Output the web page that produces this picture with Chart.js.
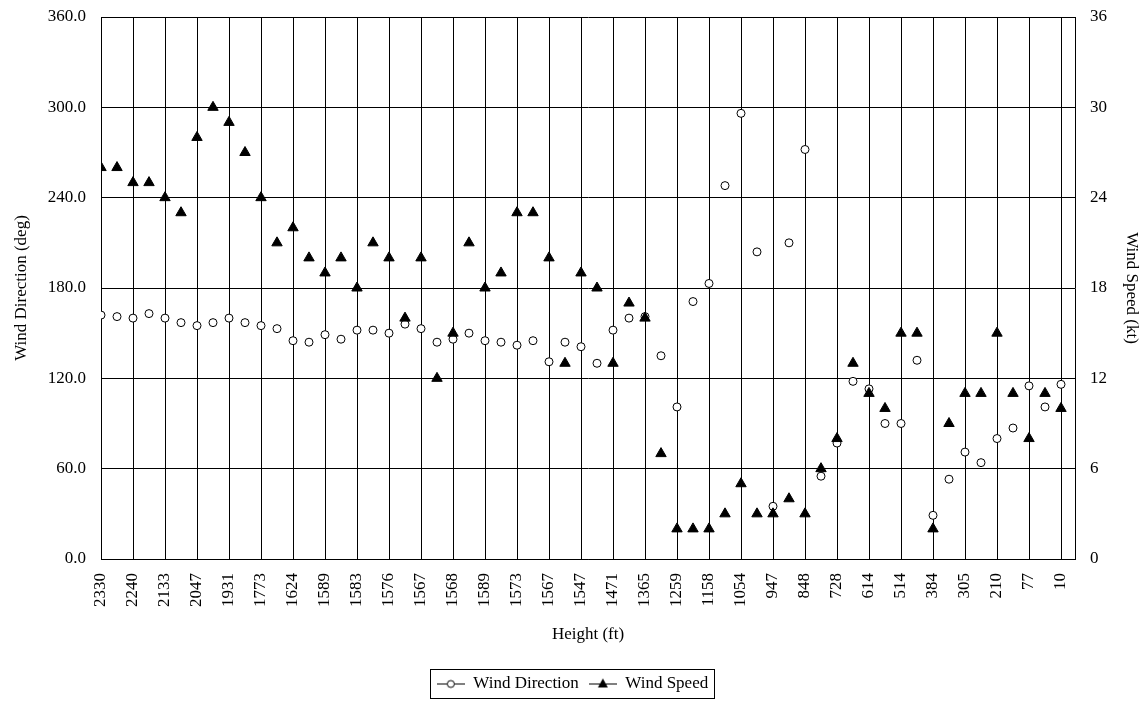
<!DOCTYPE html>
<html>
<head>
<meta charset="utf-8">
<title>Wind Direction / Wind Speed</title>
<script src="https://cdn.jsdelivr.net/npm/chart.js@4.4.1/dist/chart.umd.min.js"></script>
<style>
    html, body { margin: 0; padding: 0; background: #fff; }
    .chart-box { position: relative; width: 1145px; height: 702px; }
</style>
</head>
<body>
<div class="chart-box">
    <canvas id="windChart"></canvas>
</div>
<script>
// Height labels shown under every second point (ft)
const heights = [2330, 2240, 2133, 2047, 1931, 1773, 1624, 1589, 1583, 1576, 1567,
    1568, 1589, 1573, 1567, 1547, 1471, 1365, 1259, 1158, 1054, 947,
    848, 728, 614, 514, 384, 305, 210, 77, 10];

// Wind direction (deg), one value per point
const windDirection = [162, 161, 160, 163, 160, 157, 155, 157, 160, 157,
    155, 153, 145, 144, 149, 146, 152, 152, 150, 156,
    153, 144, 146, 150, 145, 144, 142, 145, 131, 144,
    141, 130, 152, 160, 161, 135, 101, 171, 183, 248,
    296, 204, 35, 210, 272, 55, 77, 118, 113, 90,
    90, 132, 29, 53, 71, 64, 80, 87, 115, 101,
    116];

// Wind speed (kt), one value per point
const windSpeed = [26, 26, 25, 25, 24, 23, 28, 30, 29, 27,
    24, 21, 22, 20, 19, 20, 18, 21, 20, 16,
    20, 12, 15, 21, 18, 19, 23, 23, 20, 13,
    19, 18, 13, 17, 16, 7, 2, 2, 2, 3,
    5, 3, 3, 4, 3, 6, 8, 13, 11, 10,
    15, 15, 2, 9, 11, 11, 15, 11, 8, 11,
    10];

const dirTicks = [0, 60, 120, 180, 240, 300, 360];
const speedTicks = [0, 6, 12, 18, 24, 30, 36];

document.addEventListener('DOMContentLoaded', function() {

    Chart.defaults.font.family = '"Liberation Serif", "Times New Roman", serif';
    Chart.defaults.font.size = 17;
    Chart.defaults.color = '#000';

    // small line + marker symbols for the legend
    function legendSymbol(kind) {
        const c = document.createElement('canvas');
        c.width = 28;
        c.height = 12;
        const g = c.getContext('2d');
        g.strokeStyle = '#000';
        g.lineWidth = 1;
        g.beginPath();
        g.moveTo(0, 6.5);
        g.lineTo(28, 6.5);
        g.stroke();
        g.beginPath();
        if (kind === 'circle') {
            g.arc(14, 6.5, 3.5, 0, Math.PI * 2);
            g.fillStyle = '#fff';
            g.fill();
            g.stroke();
        } else {
            g.moveTo(14, 1);
            g.lineTo(19, 10);
            g.lineTo(9, 10);
            g.closePath();
            g.fillStyle = '#000';
            g.fill();
        }
        return c;
    }
    const symbols = [legendSymbol('circle'), legendSymbol('triangle')];

    // frame around the legend items
    const legendFrame = {
        id: 'legendFrame',
        afterDraw(chart) {
            const boxes = chart.legend && chart.legend.legendHitBoxes;
            if (!boxes || !boxes.length) return;
            const left = Math.min(...boxes.map(b => b.left)) - 7;
            const right = Math.max(...boxes.map(b => b.left + b.width)) + 6;
            const top = boxes[0].top - 6;
            const h = boxes[0].height + 12;
            const c = chart.ctx;
            c.save();
            c.strokeStyle = '#000';
            c.lineWidth = 1;
            c.strokeRect(Math.round(left) + 0.5, Math.round(top) + 0.5, Math.round(right - left), Math.round(h));
            c.restore();
        }
    };

    const ctx = document.getElementById('windChart').getContext('2d');

    const windChart = new Chart(ctx, {
        type: 'scatter',
        data: {
            datasets: [{
                label: 'Wind Direction',
                data: windDirection.map((v, i) => ({ x: i, y: v })),
                yAxisID: 'y',
                order: 2,
                pointStyle: 'circle',
                pointRadius: 4,
                backgroundColor: '#fff',
                borderColor: '#000',
                borderWidth: 1
            }, {
                label: 'Wind Speed',
                data: windSpeed.map((v, i) => ({ x: i, y: v })),
                yAxisID: 'y1',
                order: 1,
                pointStyle: 'triangle',
                pointRadius: 6,
                backgroundColor: '#000',
                borderColor: '#000',
                borderWidth: 1
            }]
        },
        options: {
            responsive: true,
            maintainAspectRatio: false,
            animation: false,
            layout: {
                padding: { top: 17, right: 0, bottom: 0, left: 0 }
            },
            scales: {
                x: {
                    type: 'linear',
                    min: 0,
                    max: 60.875,
                    afterBuildTicks: (scale) => {
                        scale.ticks = heights.map((h, k) => ({ value: k * 2 }));
                    },
                    afterFit: (scale) => { scale.height = 106; },
                    ticks: {
                        autoSkip: false,
                        minRotation: 90,
                        maxRotation: 90,
                        padding: 14,
                        callback: (value) => heights[Math.round(value / 2)]
                    },
                    grid: {
                        color: '#000',
                        drawTicks: false
                    },
                    border: { color: '#000' },
                    title: {
                        display: true,
                        text: 'Height (ft)',
                        padding: { top: 0, bottom: 20 }
                    }
                },
                y: {
                    position: 'left',
                    min: 0,
                    max: 360,
                    afterBuildTicks: (scale) => {
                        scale.ticks = dirTicks.map(v => ({ value: v }));
                    },
                    afterFit: (scale) => { scale.width = 101; },
                    ticks: {
                        padding: 0,
                        callback: (value) => value.toFixed(1)
                    },
                    // invisible tick marks keep the labels 15px off the axis
                    grid: {
                        color: '#000',
                        tickLength: 15,
                        tickColor: 'rgba(0,0,0,0)'
                    },
                    border: { color: '#000' },
                    title: {
                        display: true,
                        text: 'Wind Direction (deg)',
                        padding: { top: 11, bottom: 0 }
                    }
                },
                y1: {
                    position: 'right',
                    min: 0,
                    max: 36,
                    afterBuildTicks: (scale) => {
                        scale.ticks = speedTicks.map(v => ({ value: v }));
                    },
                    afterFit: (scale) => { scale.width = 70; },
                    ticks: {
                        padding: 0
                    },
                    grid: {
                        drawOnChartArea: false,
                        tickLength: 15,
                        tickColor: 'rgba(0,0,0,0)'
                    },
                    border: { color: '#000' },
                    title: {
                        display: true,
                        text: 'Wind Speed (kt)',
                        padding: { top: 3, bottom: 0 }
                    }
                }
            },
            plugins: {
                legend: {
                    position: 'bottom',
                    labels: {
                        usePointStyle: true,
                        pointStyleWidth: 28,
                        padding: 10,
                        color: '#000',
                        sort: (a, b) => a.datasetIndex - b.datasetIndex,
                        generateLabels: (chart) => {
                            const items = Chart.defaults.plugins.legend.labels.generateLabels(chart);
                            items.forEach((item) => { item.pointStyle = symbols[item.datasetIndex]; });
                            return items;
                        }
                    }
                },
                tooltip: { enabled: false }
            }
        },
        plugins: [legendFrame]
    });
});
</script>
</body>
</html>
